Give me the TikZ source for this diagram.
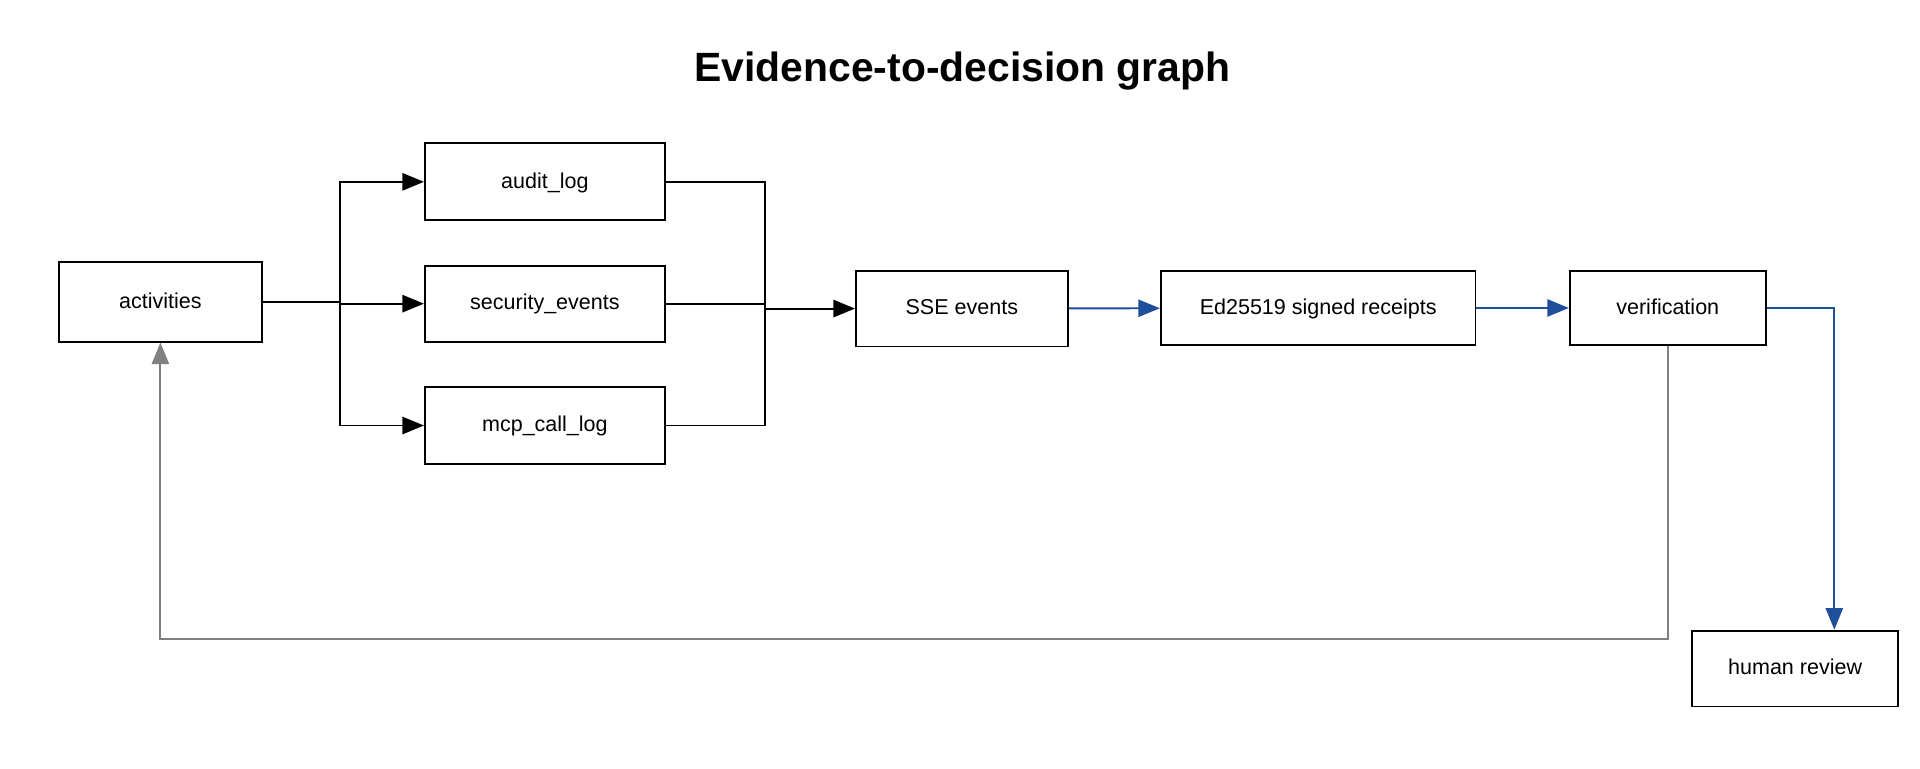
\documentclass[tikz,border=0pt]{standalone}
\usepackage{fontspec}
\setmainfont{Liberation Sans}
\usetikzlibrary{arrows.meta}
\definecolor{linkblue}{HTML}{1F4E9A}
\tikzset{
    box/.style={draw, line width=0.9pt, fill=white, font=\fontsize{10}{12}\selectfont,
        inner sep=0pt, text height=1.6ex, text depth=0.5ex},
    link/.style={line width=0.9pt, -{Triangle[length=10pt,width=8pt]}},
    bluelink/.style={link, draw=linkblue},
    backlink/.style={link, draw=gray},
}
\begin{document}
\begin{tikzpicture}[x=0.02cm, y=-0.02cm]
    \useasboundingbox (0,0) rectangle (1568,628);
    \node[font=\fontsize{19}{23}\selectfont\bfseries] (title) at (786,58) {Evidence-to-decision graph};

    \node[box, minimum width=3.32cm, minimum height=1.30cm] (activities) at (131,246.5) {activities};
    \node[box, minimum width=3.92cm, minimum height=1.26cm] (audit) at (445,148.5) {audit\_log};
    \node[box, minimum width=3.92cm, minimum height=1.24cm] (security) at (445,248) {security\_events};
    \node[box, minimum width=3.92cm, minimum height=1.26cm] (mcp) at (445,347.5) {mcp\_call\_log};
    \node[box, minimum width=3.46cm, minimum height=1.24cm] (sse) at (785.5,252) {SSE events};
    \node[box, minimum width=5.14cm, minimum height=1.22cm] (receipts) at (1076.5,251.5) {Ed25519 signed receipts};
    \node[box, minimum width=3.20cm, minimum height=1.22cm] (verify) at (1362,251.5) {verification};
    \node[box, minimum width=3.36cm, minimum height=1.24cm] (review) at (1466,546) {human review};

    \coordinate (split) at (278,246.5);
    \coordinate (merge) at (625,252);
    \draw[line width=0.9pt] (activities.east) -- (split);
    \draw[link] (split) |- (audit.west);
    \draw[link] (split) |- (security.west);
    \draw[link] (split) |- (mcp.west);
    \draw[line width=0.9pt] (audit.east) -| (merge);
    \draw[line width=0.9pt] (mcp.east) -| (merge);
    \draw[line width=0.9pt] (security.east) -- (merge |- security.east);
    \draw[link] (merge) -- (sse.west);

    \draw[bluelink] (sse) -- (receipts);
    \draw[bluelink] (receipts) -- (verify);
    \draw[bluelink] (verify.east) -| (review.north -| 1498,0);
    \coordinate (back) at (1362,522);
    \draw[backlink] (verify.south -| back) -- (back) -| (activities.south);
\end{tikzpicture}
\end{document}
